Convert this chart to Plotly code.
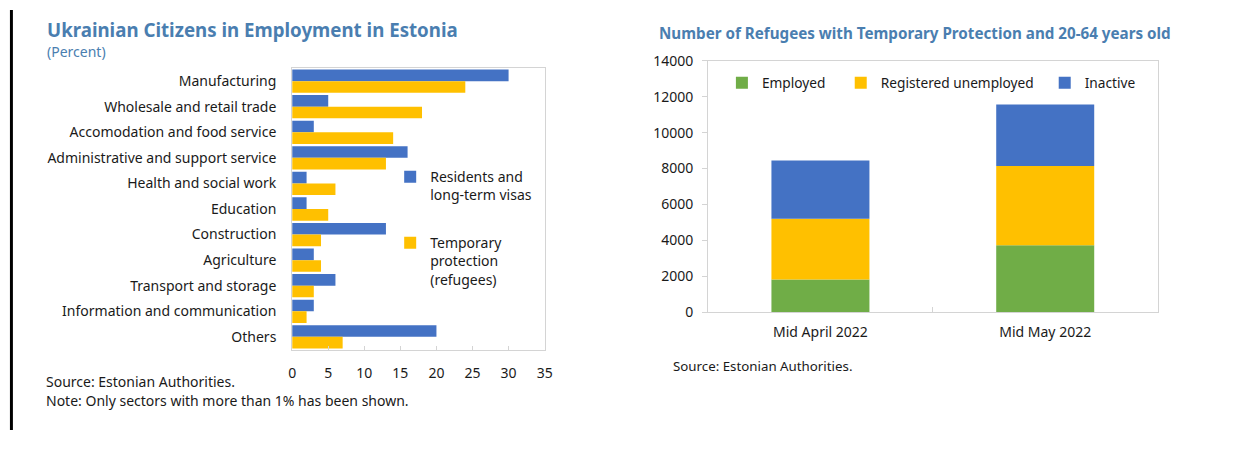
import plotly.graph_objects as go

# figure kept inside the 1243x455 window (a full-size figure makes the page overflow)
W, H = 1227, 439

sectors = ["Manufacturing", "Wholesale and retail trade", "Accomodation and food service",
           "Administrative and support service", "Health and social work", "Education",
           "Construction", "Agriculture", "Transport and storage",
           "Information and communication", "Others"]
residents = [30, 5, 3, 16, 2, 2, 13, 3, 6, 3, 20]
temporary = [24, 18, 14, 13, 6, 5, 4, 4, 3, 2, 7]

periods = ["Mid April 2022", "Mid May 2022"]
employed = [1830, 3730]
registered = [3370, 4410]
inactive = [3250, 3420]

BLUE = "#4472C4"
ORANGE = "#FFC000"
GREEN = "#70AD47"
TITLE = "#4A7EB0"
FONT = "Noto Sans"
TXT = "#1a1a1a"
LINE = "#d4d4d4"


def px_x(x):
    return x / W


def px_y(y):
    return 1 - y / H


fig = go.Figure()

fig.add_trace(go.Bar(y=sectors, x=residents, orientation="h", name="Residents and<br>long-term visas",
                     marker=dict(color=BLUE, line=dict(width=0)), xaxis="x", yaxis="y", legend="legend"))
fig.add_trace(go.Bar(y=sectors, x=temporary, orientation="h", name="Temporary<br>protection<br>(refugees)",
                     marker=dict(color=ORANGE, line=dict(width=0)), xaxis="x", yaxis="y", legend="legend2"))

base_reg = [e for e in employed]
base_ina = [e + r for e, r in zip(employed, registered)]
bw = 0.436
fig.add_trace(go.Bar(x=periods, y=employed, name="Employed", marker=dict(color=GREEN, line=dict(width=0)),
                     width=bw, offset=-bw / 2, xaxis="x2", yaxis="y2", legend="legend3"))
fig.add_trace(go.Bar(x=periods, y=registered, base=base_reg, name="Registered unemployed",
                     marker=dict(color=ORANGE, line=dict(width=0)),
                     width=bw, offset=-bw / 2, xaxis="x2", yaxis="y2", legend="legend4"))
fig.add_trace(go.Bar(x=periods, y=inactive, base=base_ina, name="Inactive",
                     marker=dict(color=BLUE, line=dict(width=0)),
                     width=bw, offset=-bw / 2, xaxis="x2", yaxis="y2", legend="legend5"))


def leg(x, y, size=14, **kw):
    d = dict(x=px_x(x), y=px_y(y), bgcolor="rgba(0,0,0,0)", borderwidth=0,
             font=dict(family=FONT, size=size, color=TXT),
             xanchor="left", yanchor="top", itemwidth=30, traceorder="normal")
    d.update(kw)
    return d


fig.update_layout(
    width=W, height=H,
    margin=dict(l=0, r=0, t=0, b=0),
    paper_bgcolor="white", plot_bgcolor="white",
    font=dict(family=FONT, size=13, color=TXT),
    barmode="group", bargap=0.09, bargroupgap=0,
    xaxis=dict(domain=[px_x(291), px_x(546)], anchor="y", range=[0, 35], dtick=5,
               showline=True, mirror=True, linecolor=LINE, linewidth=1,
               ticks="inside", ticklen=4, tickcolor=LINE, showgrid=False, zeroline=False,
               tickfont=dict(size=14), ticklabelstandoff=11, fixedrange=True),
    yaxis=dict(domain=[px_y(355), px_y(61)], anchor="x", autorange="reversed", type="category",
               showline=True, mirror=True, linecolor=LINE, linewidth=1, ticks="",
               showgrid=False, zeroline=False, tickfont=dict(size=14), ticklabelstandoff=12),
    xaxis2=dict(domain=[px_x(711), px_x(1165)], anchor="y2", type="category",
                showline=True, mirror=True, linecolor=LINE, linewidth=1,
                ticks="inside", tickson="boundaries", ticklen=5, tickcolor=LINE,
                showgrid=False, zeroline=False, tickfont=dict(size=14), ticklabelstandoff=7),
    yaxis2=dict(domain=[px_y(316), px_y(53)], anchor="x2", range=[0, 14000], dtick=2000, tickformat="d",
                showline=True, mirror=True, linecolor=LINE, linewidth=1,
                ticks="outside", ticklen=5, tickcolor=LINE,
                showgrid=False, zeroline=False, tickfont=dict(size=14), ticklabelstandoff=6),
    legend=leg(390, 158, valign="top"),
    legend2=leg(390, 227, valign="top"),
    legend3=leg(725, 60, size=13.7),
    legend4=leg(845, 60, size=13.7),
    legend5=leg(1051, 60, size=13.7),
    showlegend=True,
)

annotations = [
    dict(text="<b>Ukrainian Citizens in Employment in Estonia</b>", x=px_x(41), y=px_y(20),
         font=dict(size=18.7, color=TITLE)),
    dict(text="(Percent)", x=px_x(41), y=px_y(43), font=dict(size=14, color=TITLE)),
    dict(text="<b>Number of Refugees with Temporary Protection and 20-64 years old</b>", x=px_x(659), y=px_y(24),
         font=dict(size=15.2, color=TITLE)),
    dict(text="Source: Estonian Authorities.", x=px_x(40), y=px_y(388), font=dict(size=14, color=TXT)),
    dict(text="Note: Only sectors with more than 1% has been shown.", x=px_x(40), y=px_y(408),
         font=dict(size=14, color=TXT)),
    dict(text="Source: Estonian Authorities.", x=px_x(674), y=px_y(372), font=dict(size=13.3, color=TXT)),
]
for a in annotations:
    a.update(xref="paper", yref="paper", xanchor="left", yanchor="middle", showarrow=False)
    a["font"]["family"] = FONT
fig.update_layout(annotations=annotations)

fig.add_shape(type="rect", xref="paper", yref="paper", x0=px_x(6), x1=px_x(9), y0=0, y1=1,
              fillcolor="black", line=dict(width=0))

fig.write_html("out.html")
